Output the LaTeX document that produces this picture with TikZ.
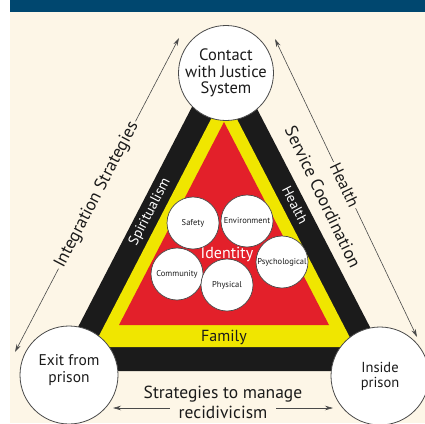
\documentclass[tikz,border=0pt]{standalone}
\usepackage{fontspec}
\setmainfont{PT Sans}
\usepackage{xcolor}
\usetikzlibrary{arrows.meta, positioning}
\definecolor{cjblue}{HTML}{00476F}
\definecolor{cjcream}{HTML}{FDF6E7}
\definecolor{cjred}{HTML}{E3202A}
\definecolor{cjyellow}{HTML}{F0E600}
\definecolor{cjblack}{HTML}{1B1B1B}
\definecolor{cjgray}{HTML}{4A4A4A}

\begin{document}
\begin{tikzpicture}[x=1pt, y=-1pt,
  stage/.style={circle, draw=cjgray, line width=0.8pt, fill=white, minimum size=#1,
    inner sep=0pt, align=center, font=\fontsize{16.5}{16.5}\selectfont, text=cjblack},
  stage/.default=96pt,
  factor/.style={circle, draw=cjgray, line width=0.7pt, fill=white, minimum size=52pt,
    inner sep=0pt, font=\fontsize{8.5}{9}\selectfont, text=cjblack},
  band/.style={font=\fontsize{14.5}{16}\selectfont, text=#1},
  band/.default=white,
  arr/.style={{Stealth[length=8pt,width=4.5pt]}-{Stealth[length=8pt,width=4.5pt]},
    cjgray, line width=0.6pt},
  lbl/.style={font=\fontsize{17.5}{20}\selectfont, text=cjblack, fill=cjcream, inner sep=3pt},
]
  % page, header strip
  \fill[white] (0,0) rectangle (425,423);
  \fill[cjcream] (10,12) rectangle (425,423);
  \fill[cjblue] (10,0) rectangle (425,11.5);
  \useasboundingbox (0,0) rectangle (425,423);

  % nested triangle: black, yellow, red
  \fill[cjblack] (224,45) -- (55.3,371) -- (392.7,371) -- cycle;
  \fill[cjyellow] (224,94) -- (93.2,347) -- (354.8,347) -- cycle;
  \fill[cjred] (224,122) -- (119,325) -- (329,325) -- cycle;

  \node[band, rotate=62.7] (spirit) at (150,212) {Spiritualism};
  \node[band, rotate=-62.7, font=\fontsize{14}{16}\selectfont] (health) at (295,205) {Health};
  \node[band=cjblack, font=\fontsize{16}{18}\selectfont] (family) at (224,337) {Family};
  \node[band, font=\fontsize{16}{18}\selectfont] (identity) at (227,254) {Identity};

  % factors around identity
  \node[factor] (safety) at (193,223) {Safety};
  \node[factor] (environment) at (247,221) {Environment};
  \node[factor] (psych) at (282,262) {Psychological};
  \node[factor] (community) at (177,274) {Community};
  \node[factor] (physical) at (227,285) {Physical};

  % stages
  \node[stage=95pt] (contact) at (226,73) {Contact\\with Justice\\System};
  \node[stage=98pt, font=\fontsize{15.5}{17}\selectfont] (exit) at (69,375)
    {\raisebox{1pt}[0pt][0pt]{\begin{tabular}{@{}c@{}}Exit from\\prison\end{tabular}}};
  \node[stage=98pt, font=\fontsize{14.5}{15}\selectfont] (inside) at (380,376) {Inside\\prison};

  % strategy arrows
  \coordinate (intTop) at (179,38);
  \coordinate (intBot) at (15,352);
  \coordinate (healthTop) at (275,39);
  \coordinate (healthBot) at (417,337);
  \coordinate (recL) at (113,408);
  \coordinate (recR) at (333,408);

  \draw[arr] (intBot) -- node[lbl, sloped, inner sep=2pt] (intlbl) {Integration Strategies} (intTop);
  \draw[arr] (healthTop) -- node[lbl, sloped, pos=0.49, inner sep=2pt,
    font=\fontsize{16.5}{18}\selectfont] (healthlbl) {Health} (healthBot);
  \node[lbl, fill=none, rotate=-64.5] (service) at (323,197) {Service Coordination};

  \draw[arr] (recL) -- node[lbl, inner xsep=9pt, inner ysep=0.5pt, yshift=-4.5pt] (reclbl) {recidivicism} (recR);
  \node[lbl, fill=none, inner ysep=1pt, above=1.5pt of reclbl] (strat) {Strategies to manage};
\end{tikzpicture}
\end{document}
